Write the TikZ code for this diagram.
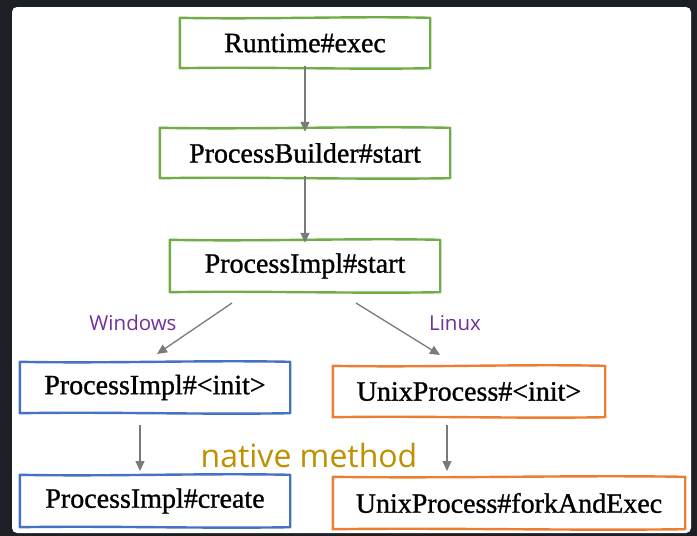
\documentclass[tikz,border=0pt]{standalone}
\usepackage{fontspec}
\setmainfont{Liberation Serif}
\newfontfamily\boxfont[FakeBold=1.0]{Liberation Serif}
\newfontfamily\handfont{Open Sans}
\usetikzlibrary{arrows.meta,calc}
\definecolor{framebg}{HTML}{1C1F23}
\definecolor{boxgreen}{HTML}{70AD47}
\definecolor{boxblue}{HTML}{4472C4}
\definecolor{boxorange}{HTML}{ED7D31}
\definecolor{labpurple}{HTML}{7030A0}
\definecolor{labgold}{HTML}{BF9000}
\definecolor{arrgray}{HTML}{7A7A7A}
\newcommand{\wavyframe}[2]{%
  \draw[boxline, draw=#2] (#1.north west)
    .. controls ($(#1.north west)!0.33!(#1.north east)+(0,1.8)$) and ($(#1.north west)!0.67!(#1.north east)+(0,-1.8)$) .. (#1.north east)
    .. controls ($(#1.north east)!0.5!(#1.south east)+(0.8,0)$) .. (#1.south east)
    .. controls ($(#1.south east)!0.33!(#1.south west)+(0,1.5)$) and ($(#1.south east)!0.67!(#1.south west)+(0,-1.5)$) .. (#1.south west)
    .. controls ($(#1.south west)!0.5!(#1.north west)+(-0.6,0)$) .. cycle;}
\begin{document}
\begin{tikzpicture}[x=1pt,y=-1pt,
  callbox/.style={inner sep=0pt, font=\boxfont\fontsize{28}{32}\selectfont, text=black},
  boxline/.style={line width=2.4pt, line join=round},
  flow/.style={draw=arrgray, line width=1.3pt, -{Triangle[length=10pt,width=9pt]}},
  oslabel/.style={font=\handfont\fontsize{20.5}{24}\selectfont, text=labpurple},
  notelabel/.style={font=\handfont\fontsize{32}{36}\selectfont, text=labgold}]
\useasboundingbox (0,0) rectangle (697,536);
\fill[framebg] (0,0) rectangle (697,536);
\fill[white, rounded corners=5pt] (12,7) rectangle (691,533);

\node[callbox, minimum width=250pt, minimum height=50pt] (rt) at (305,43) {Runtime\#exec};
\node[callbox, minimum width=290pt, minimum height=50pt] (pb) at (305,153) {ProcessBuilder\#start};
\node[callbox, minimum width=270pt, minimum height=52pt] (pi) at (305,266) {ProcessImpl\#start};
\node[callbox, minimum width=270pt, minimum height=51pt] (pinit) at (155,387.5) {ProcessImpl\#<init>};
\node[callbox, minimum width=272pt, minimum height=51pt] (uinit) at (469,391.5) {UnixProcess\#<init>};
\node[callbox, minimum width=270pt, minimum height=52pt] (pcreate) at (155,501) {ProcessImpl\#create};
\node[callbox, minimum width=352pt, minimum height=52pt] (ufork) at (509,503) {UnixProcess\#forkAndExec};

\wavyframe{rt}{boxgreen}
\wavyframe{pb}{boxgreen}
\wavyframe{pi}{boxgreen}
\wavyframe{pinit}{boxblue}
\wavyframe{pcreate}{boxblue}
\wavyframe{uinit}{boxorange}
\wavyframe{ufork}{boxorange}

\node[oslabel] (win) at (133,323) {Windows};
\node[oslabel] (lin) at (455,323) {Linux};
\node[notelabel] (nat) at (309,455) {native method};

\coordinate (w0) at (232,303);
\coordinate (w1) at (157,354);
\coordinate (l0) at (356,303);
\coordinate (l1) at (440,355);
\coordinate (a0) at (140,425);
\coordinate (a1) at (140,471);
\coordinate (b0) at (447,425);
\coordinate (b1) at (447,471);

\draw[flow] ([yshift=2pt]rt.south) -- ([yshift=-4pt]pb.north);
\draw[flow] ([yshift=2pt]pb.south) -- ([yshift=-3pt]pi.north);
\draw[flow] (w0) -- (w1);
\draw[flow] (l0) -- (l1);
\draw[flow] (a0) -- (a1);
\draw[flow] (b0) -- (b1);
\end{tikzpicture}
\end{document}
